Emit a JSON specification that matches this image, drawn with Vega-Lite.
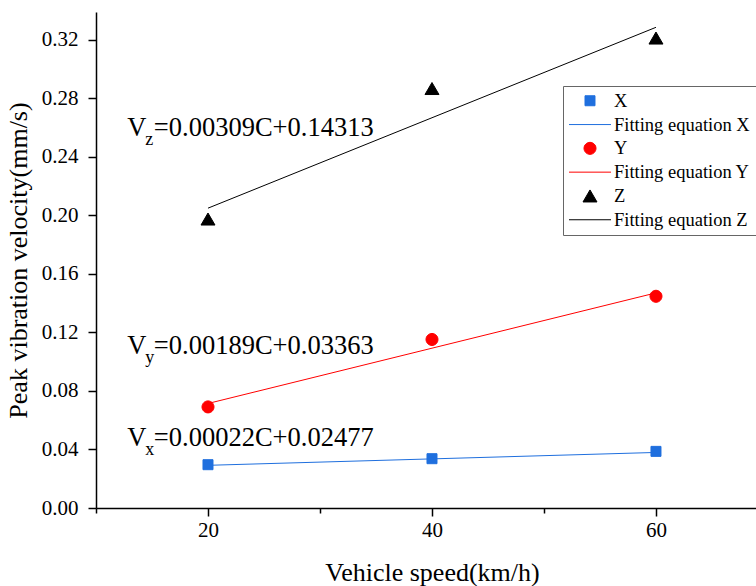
{
  "$schema": "https://vega.github.io/schema/vega-lite/v6.json",
  "width": 661,
  "height": 496,
  "autosize": {"type": "none"},
  "padding": {"left": 96, "top": 12, "right": 0, "bottom": 78},
  "background": "white",
  "config": {
    "font": "Liberation Serif",
    "view": {"stroke": null},
    "axis": {
      "grid": false,
      "domainColor": "black",
      "domainWidth": 1.5,
      "tickColor": "black",
      "tickWidth": 1.5,
      "labelColor": "black",
      "titleColor": "black",
      "labelFont": "Liberation Serif",
      "titleFont": "Liberation Serif",
      "titleFontWeight": "normal",
      "labelFontSize": 21,
      "titleFontSize": 26
    },
    "legend": {
      "orient": "none",
      "legendX": 467,
      "legendY": 74,
      "strokeColor": "#666666",
      "fillColor": "white",
      "padding": 5.5,
      "labelFont": "Liberation Serif",
      "labelFontSize": 18.5,
      "labelColor": "black",
      "labelOffset": 2.5,
      "labelLimit": 400,
      "rowPadding": 4.8,
      "clipHeight": 18.5,
      "symbolSize": 1764,
      "symbolOpacity": 1,
      "symbolStrokeWidth": 1
    }
  },
  "datasets": {
    "points": [
      {"speed": 20, "v": 0.0296, "series": "X"},
      {"speed": 40, "v": 0.0337, "series": "X"},
      {"speed": 60, "v": 0.0387, "series": "X"},
      {"speed": 20, "v": 0.0691, "series": "Y"},
      {"speed": 40, "v": 0.1152, "series": "Y"},
      {"speed": 60, "v": 0.1447, "series": "Y"},
      {"speed": 20, "v": 0.1975, "series": "Z"},
      {"speed": 40, "v": 0.2867, "series": "Z"},
      {"speed": 60, "v": 0.3212, "series": "Z"}
    ],
    "fits": [
      {"speed": 20, "v": 0.02917, "series": "Fitting equation X"},
      {"speed": 60, "v": 0.03797, "series": "Fitting equation X"},
      {"speed": 20, "v": 0.07143, "series": "Fitting equation Y"},
      {"speed": 60, "v": 0.14703, "series": "Fitting equation Y"},
      {"speed": 20, "v": 0.20493, "series": "Fitting equation Z"},
      {"speed": 60, "v": 0.32853, "series": "Fitting equation Z"}
    ],
    "labels": [
      {"speed": 12.8, "v": 0.2545, "main": "V", "sub": "z", "rest": "=0.00309C+0.14313"},
      {"speed": 12.8, "v": 0.105, "main": "V", "sub": "y", "rest": "=0.00189C+0.03363"},
      {"speed": 12.8, "v": 0.0426, "main": "V", "sub": "x", "rest": "=0.00022C+0.02477"}
    ]
  },
  "layer": [
    {
      "data": {"name": "fits"},
      "mark": {"type": "line", "strokeWidth": 1},
      "encoding": {
        "x": {
          "field": "speed",
          "type": "quantitative",
          "scale": {"domain": [10, 69.02], "nice": false, "zero": false},
          "axis": {
            "title": "Vehicle speed(km/h)",
            "values": [10, 20, 30, 40, 50, 60],
            "labelExpr": "datum.value % 20 === 0 ? datum.value : ''",
            "tickSize": {"condition": {"test": "datum.value % 20 === 0", "value": 8}, "value": 5},
            "labelPadding": 3,
            "titlePadding": 19,
            "titleX": 336
          }
        },
        "y": {
          "field": "v",
          "type": "quantitative",
          "scale": {"domain": [0, 0.339], "nice": false, "zero": true},
          "axis": {
            "title": "Peak vibration velocity(mm/s)",
            "values": [0, 0.02, 0.04, 0.06, 0.08, 0.1, 0.12, 0.14, 0.16, 0.18, 0.2, 0.22, 0.24, 0.26, 0.28, 0.3, 0.32],
            "labelExpr": "round(datum.value*100) % 4 === 0 ? format(datum.value, '.2f') : ''",
            "tickSize": {"condition": {"test": "round(datum.value*100) % 4 === 0", "value": 8}, "value": 5},
            "labelPadding": 10,
            "titlePadding": 10
          }
        },
        "detail": {"field": "series", "type": "nominal"},
        "color": {
          "condition": [
            {"test": "datum.series === 'Fitting equation X'", "value": "#1f6fde"},
            {"test": "datum.series === 'Fitting equation Y'", "value": "#ff0000"}
          ],
          "value": "#000000"
        }
      }
    },
    {
      "data": {"name": "points"},
      "mark": {"type": "point", "filled": true, "opacity": 1, "size": 1764, "strokeWidth": 1},
      "encoding": {
        "x": {"field": "speed", "type": "quantitative"},
        "y": {"field": "v", "type": "quantitative"},
        "fill": {
          "field": "series",
          "type": "nominal",
          "scale": {
            "domain": ["X", "Fitting equation X", "Y", "Fitting equation Y", "Z", "Fitting equation Z"],
            "range": ["#1f6fde", "#1f6fde", "#ff0000", "#ff0000", "#000000", "#000000"]
          },
          "legend": {"title": null}
        },
        "stroke": {
          "field": "series",
          "type": "nominal",
          "scale": {
            "domain": ["X", "Fitting equation X", "Y", "Fitting equation Y", "Z", "Fitting equation Z"],
            "range": ["#1f6fde", "#1f6fde", "#ff0000", "#ff0000", "#000000", "#000000"]
          },
          "legend": {"title": null}
        },
        "shape": {
          "field": "series",
          "type": "nominal",
          "scale": {
            "domain": ["X", "Fitting equation X", "Y", "Fitting equation Y", "Z", "Fitting equation Z"],
            "range": [
              "M-0.238,-0.238H0.238V0.238H-0.238Z",
              "M-1,0H1",
              "M-0.286,0A0.286,0.286,0,1,0,0.286,0A0.286,0.286,0,1,0,-0.286,0Z",
              "M-1,0H1",
              "M0,-0.286L0.333,0.286L-0.333,0.286Z",
              "M-1,0H1"
            ]
          },
          "legend": {"title": null}
        }
      }
    },
    {
      "data": {"name": "labels"},
      "mark": {"type": "text", "align": "left", "baseline": "alphabetic", "fontSize": 26.5, "font": "Liberation Serif", "color": "black"},
      "encoding": {
        "x": {"field": "speed", "type": "quantitative"},
        "y": {"field": "v", "type": "quantitative"},
        "text": {"field": "main"}
      }
    },
    {
      "data": {"name": "labels"},
      "mark": {"type": "text", "align": "left", "baseline": "alphabetic", "fontSize": 18, "font": "Liberation Serif", "color": "black", "dx": 18, "dy": 9},
      "encoding": {
        "x": {"field": "speed", "type": "quantitative"},
        "y": {"field": "v", "type": "quantitative"},
        "text": {"field": "sub"}
      }
    },
    {
      "data": {"name": "labels"},
      "mark": {"type": "text", "align": "left", "baseline": "alphabetic", "fontSize": 26.5, "font": "Liberation Serif", "color": "black", "dx": 26.5},
      "encoding": {
        "x": {"field": "speed", "type": "quantitative"},
        "y": {"field": "v", "type": "quantitative"},
        "text": {"field": "rest"}
      }
    }
  ]
}
